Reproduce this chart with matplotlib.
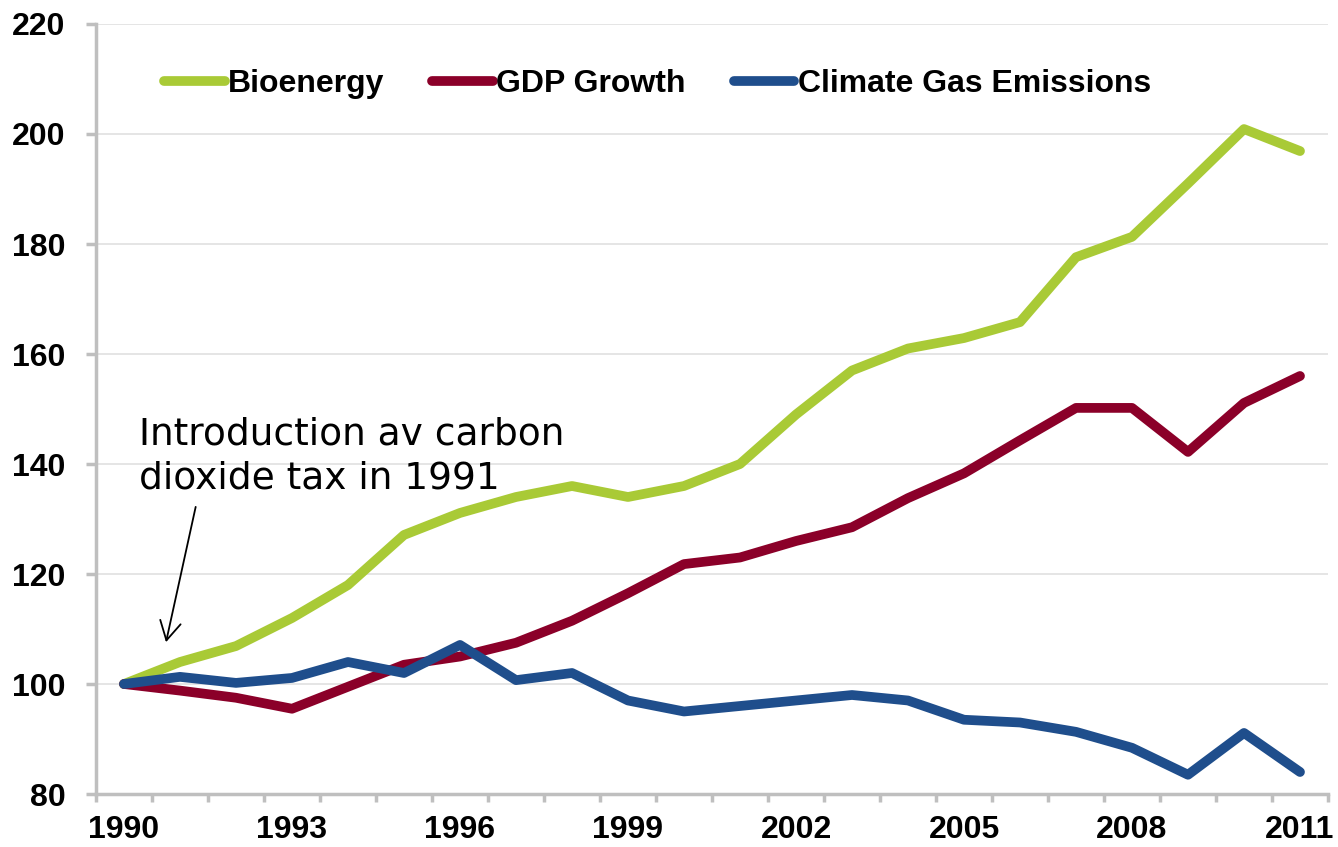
import matplotlib.pyplot as plt

years = list(range(1990, 2012))
bioenergy = [100, 104, 106.9, 112, 118, 127.1, 131.1, 134, 136, 134, 136, 140,
             149, 157, 161, 162.9, 165.8, 177.6, 181.3, 191, 200.9, 196.9]
gdp = [100, 98.8, 97.5, 95.5, 99.5, 103.5, 105, 107.5, 111.5, 116.5, 121.8, 123,
       126, 128.5, 133.8, 138.3, 144.3, 150.2, 150.2, 142.2, 151.1, 156]
emissions = [100, 101.3, 100.2, 101.1, 104, 102, 107.1, 100.7, 102, 97, 95, 96,
             97, 98, 97, 93.5, 93, 91.3, 88.4, 83.5, 91.1, 84]
label_years = [1990, 1993, 1996, 1999, 2002, 2005, 2008, 2011]

plt.rcParams['font.family'] = ['Liberation Sans', 'DejaVu Sans']

fig = plt.figure(figsize=(13.38, 8.47), dpi=100)
ax = fig.add_axes([96/1338, 53/847, 1232/1338, 770/847])

x = list(range(len(years)))
lw = 7
ax.plot(x, bioenergy, color='#A9CA36', lw=lw, solid_capstyle='round', solid_joinstyle='round', label='Bioenergy')
ax.plot(x, gdp, color='#8B0029', lw=lw, solid_capstyle='round', solid_joinstyle='round', label='GDP Growth')
ax.plot(x, emissions, color='#1F4E8C', lw=lw, solid_capstyle='round', solid_joinstyle='round', label='Climate Gas Emissions')

ax.set_xlim(-0.5, len(years) - 0.5)
ax.set_ylim(80, 220)
ax.set_yticks(range(80, 221, 20))
ax.grid(axis='y', color='#E0E0E0', lw=1.2)
ax.set_axisbelow(True)

ax.set_xticks([years.index(y) for y in label_years])
ax.set_xticklabels([str(y) for y in label_years])
ax.set_xticks([i - 0.5 for i in range(len(years) + 1)], minor=True)
ax.tick_params(axis='x', which='major', length=0, pad=15)
ax.tick_params(axis='x', which='minor', length=6, width=2.5, color='#BFBFBF')
ax.tick_params(axis='y', length=7, width=2.5, color='#BFBFBF', pad=15)
for lab in ax.get_xticklabels() + ax.get_yticklabels():
    lab.set_fontsize(23)
    lab.set_fontweight('bold')

for s in ['top', 'right']:
    ax.spines[s].set_visible(False)
for s in ['left', 'bottom']:
    ax.spines[s].set_color('#BFBFBF')
    ax.spines[s].set_linewidth(2.5)

leg = ax.legend(loc='center left', bbox_to_anchor=(0.045, 0.922), ncol=3, frameon=False,
                prop={'size': 23, 'weight': 'bold'}, handlelength=1.9, handletextpad=0.1,
                columnspacing=1.5, borderaxespad=0)

ax.text(0.27, 135.6, 'Introduction av carbon\ndioxide tax in 1991', fontsize=27,
        family='DejaVu Sans', ha='left', va='baseline', linespacing=1.28)
ax.annotate('', xy=(0.75, 107.6), xytext=(1.28, 132.2),
            arrowprops=dict(arrowstyle='->,head_length=0.45,head_width=0.25', color='black',
                            lw=1.3, mutation_scale=30, shrinkA=0, shrinkB=0))

fig.savefig('out.png', dpi=100)
